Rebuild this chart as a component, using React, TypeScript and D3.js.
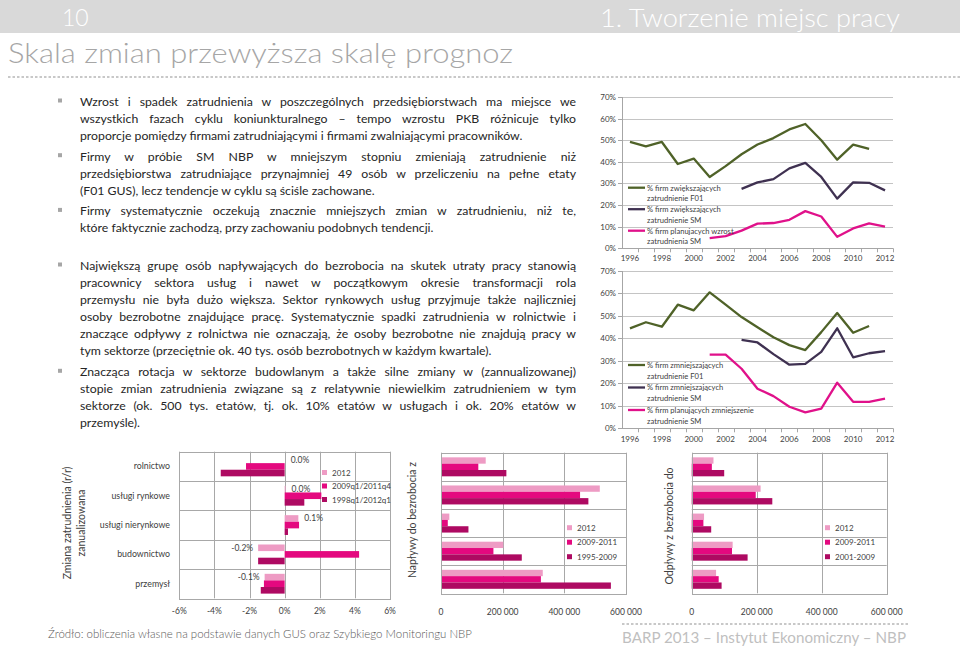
import React, { useEffect, useRef } from "react";
import * as d3 from "d3";

// ---------- line charts ----------
const years = [1996, 1997, 1998, 1999, 2000, 2001, 2002, 2003, 2004, 2005, 2006, 2007, 2008, 2009, 2010, 2011, 2012];
const yearLabels = [1996, 1998, 2000, 2002, 2004, 2006, 2008, 2010, 2012];
const pctTicks = [0, 10, 20, 30, 40, 50, 60, 70];

const incF01 = [49.2, 47.2, 49.2, 39, 41.5, 33, 38, 43.5, 48, 51, 55, 57.5, 50, 41, 48, 46, null];
const incSM = [null, null, null, null, null, null, null, 27.5, 30.5, 32, 37, 39.5, 33, 23, 30.5, 30.3, 26.8];
const incPlan = [null, null, null, null, null, 4.7, 5.6, 8.2, 11.4, 11.7, 13.2, 17.2, 14.7, 5.3, 9.2, 11.5, 10];

const decF01 = [44.5, 47.2, 45.2, 55, 52.5, 60.5, 55, 49.5, 45, 40.5, 37, 34.8, 42.8, 51.3, 42.5, 45.5, null];
const decSM = [null, null, null, null, null, null, null, 39.4, 38.2, 33, 28.3, 28.7, 34, 44.5, 31.6, 33.4, 34.3];
const decPlan = [null, null, null, null, null, 32.8, 32.8, 26.5, 17.6, 14.3, 9.6, 7.1, 8.8, 20.3, 11.8, 11.8, 13.2];

const incLegend = [
  ["% firm zwiększających", "zatrudnienie F01"],
  ["% firm zwiększających", "zatrudnienie SM"],
  ["% firm planujacych wzrost", "zatrudnienia SM"],
];
const decLegend = [
  ["% firm zmniejszających", "zatrudnienie F01"],
  ["% firm zmniejszających", "zatrudnienie SM"],
  ["% firm planujących zmniejszenie", "zatrudnienie SM"],
];

// ---------- bar charts ----------
const sectors = ["rolnictwo", "usługi rynkowe", "usługi nierynkowe", "budownictwo", "przemysł"];

const chgTicks = [-6, -4, -2, 0, 2, 4, 6];
const chg2012 = [0.0, 0.05, 0.78, -1.51, -1.14];
const chg0911 = [-2.2, 2.09, 0.82, 4.24, -1.18];
const chg9812 = [-3.64, 1.12, 0.19, -1.51, -1.36];
const chgLabels = ["0.0%", "0.0%", "0.1%", "-0.2%", "-0.1%"];
const chgNames = ["2012", "2009q1/2011q4", "1998q1/2012q1"];

const flowTicks = [0, 200000, 400000, 600000];
const in2012 = [145000, 515000, 27000, 202000, 330000];
const in0911 = [121000, 451000, 22000, 170000, 324000];
const in9509 = [212000, 478000, 89000, 262000, 551000];
const inNames = ["2012", "2009-2011", "1995-2009"];

const out2012 = [67000, 212000, 38000, 126000, 75000];
const out0911 = [62000, 197000, 36000, 124000, 83000];
const out0109 = [100000, 248000, 60000, 172000, 92000];
const outNames = ["2012", "2009-2011", "2001-2009"];

const barColors = ["#EE9BC4", "#E4097F", "#AE0A62"];
const lineColors = ["#4F6228", "#3F3151", "#E0118A"];

// ---------- text ----------
const block1 = [
  [
    "Wzrost i spadek zatrudnienia w poszczególnych przedsiębiorstwach ma miejsce we",
    "wszystkich fazach cyklu koniunkturalnego – tempo wzrostu PKB różnicuje tylko",
    "proporcje pomiędzy firmami zatrudniającymi i firmami zwalniającymi pracowników.",
  ],
  [
    "Firmy w próbie SM NBP w mniejszym stopniu zmieniają zatrudnienie niż",
    "przedsiębiorstwa zatrudniające przynajmniej 49 osób w przeliczeniu na pełne etaty",
    "(F01 GUS), lecz tendencje w cyklu są ściśle zachowane.",
  ],
  [
    "Firmy systematycznie oczekują znacznie mniejszych zmian w zatrudnieniu, niż te,",
    "które faktycznie zachodzą, przy zachowaniu podobnych tendencji.",
  ],
];
const block2 = [
  [
    "Największą grupę osób napływających do bezrobocia na skutek utraty pracy stanowią",
    "pracownicy sektora usług i nawet w początkowym okresie transformacji rola",
    "przemysłu nie była dużo większa. Sektor rynkowych usług przyjmuje także najliczniej",
    "osoby bezrobotne znajdujące pracę. Systematycznie spadki zatrudnienia w rolnictwie i",
    "znaczące odpływy z rolnictwa nie oznaczają, że osoby bezrobotne nie znajdują pracy w",
    "tym sektorze (przeciętnie ok. 40 tys. osób bezrobotnych w każdym kwartale).",
  ],
  [
    "Znacząca rotacja w sektorze budowlanym a także silne zmiany w (zannualizowanej)",
    "stopie zmian zatrudnienia związane są z relatywnie niewielkim zatrudnieniem w tym",
    "sektorze (ok. 500 tys. etatów, tj. ok. 10% etatów w usługach i ok. 20% etatów w",
    "przemyśle).",
  ],
];

const FONT = "Lato, 'Open Sans', 'DejaVu Sans', sans-serif";
const TXT = "#404040";

type Sel = d3.Selection<SVGGElement, unknown, null, undefined>;

function hline(g: Sel, x1: number, x2: number, y: number, color: string) {
  g.append("line").attr("x1", x1).attr("x2", x2).attr("y1", y).attr("y2", y).attr("stroke", color).attr("stroke-width", 1);
}
function vline(g: Sel, x: number, y1: number, y2: number, color: string) {
  g.append("line").attr("x1", x).attr("x2", x).attr("y1", y1).attr("y2", y2).attr("stroke", color).attr("stroke-width", 1);
}

function drawLineChart(
  root: Sel,
  top: number,
  bottom: number,
  labelY: number,
  series: (number | null)[][],
  legend: string[][],
  legendY: number,
  legendStep: number
) {
  const g = root.append("g").attr("font-family", FONT);
  const x = d3.scalePoint<number>().domain(years).range([622, 893]).padding(0.5);
  const y = d3.scaleLinear().domain([0, 70]).range([bottom, top]);
  const step = x.step();
  const L = 622, R = 893;
  pctTicks.forEach((v) => {
    if (v > 0) hline(g, L, R, Math.round(y(v)) + 0.5, "#C4C4C4");
    hline(g, L - 4, L, Math.round(y(v)) + 0.5, "#A6A6A6");
    g.append("text").attr("x", L - 6).attr("y", y(v) + 3).attr("text-anchor", "end").attr("font-size", 8).attr("fill", TXT).text(`${v}%`);
  });
  vline(g, L + 0.5, top, bottom, "#A6A6A6");
  hline(g, L, R, Math.round(y(0)) + 0.5, "#A6A6A6");
  years.forEach((yr, i) => {
    vline(g, Math.round(L + (i + 1) * step) + 0.5, bottom, bottom + 4, "#A6A6A6");
  });
  yearLabels.forEach((yr) => {
    g.append("text").attr("x", x(yr)!).attr("y", labelY + 3).attr("text-anchor", "middle").attr("font-size", 8).attr("fill", TXT).text(String(yr));
  });
  series.forEach((vals, si) => {
    const line = d3
      .line<number | null>()
      .defined((d) => d != null)
      .x((_, i) => x(years[i])!)
      .y((d) => y(d as number));
    g.append("path").attr("d", line(vals)!).attr("fill", "none").attr("stroke", lineColors[si]).attr("stroke-width", 2.3).attr("stroke-linejoin", "round");
  });
  legend.forEach((lab, i) => {
    const ly = legendY + i * legendStep;
    g.append("line").attr("x1", 628).attr("x2", 645).attr("y1", ly).attr("y2", ly).attr("stroke", lineColors[i]).attr("stroke-width", 2.3);
    g.append("text").attr("x", 647).attr("y", ly + 2.8).attr("font-size", 7.6).attr("fill", TXT).text(lab[0]);
    g.append("text").attr("x", 647).attr("y", ly + 13.5).attr("font-size", 7.6).attr("fill", TXT).text(lab[1]);
  });
}

function drawBarChart(
  root: Sel,
  x0: number,
  x1: number,
  top: number,
  bottom: number,
  domain: [number, number],
  ticks: number[],
  fmt: (v: number) => string,
  tickY: number,
  series: number[][],
  names: string[],
  legendX: number,
  legendY: number,
  legendStep: number
) {
  const g = root.append("g").attr("font-family", FONT);
  const x = d3.scaleLinear().domain(domain).range([x0, x1]);
  const band = d3.scaleBand<string>().domain(sectors).range([top, bottom]);
  const bw = band.bandwidth();
  const inner = d3.scaleBand<number>().domain([0, 1, 2]).range([bw * 0.165, bw * 0.84]);
  const grid = "#A8A8A8";
  ticks.forEach((t) => vline(g, Math.round(x(t)) + 0.5, top, bottom, grid));
  sectors.slice(1).forEach((s) => hline(g, x0, x1, Math.round(band(s)!) + 0.5, grid));
  series.forEach((vals, si) => {
    vals.forEach((v, i) => {
      g.append("rect")
        .attr("x", x(Math.min(0, v)))
        .attr("y", band(sectors[i])! + inner(si)!)
        .attr("width", Math.abs(x(v) - x(0)))
        .attr("height", inner.bandwidth())
        .attr("fill", barColors[si]);
    });
  });
  g.append("rect").attr("x", Math.round(x0) + 0.5).attr("y", Math.round(top) + 0.5).attr("width", Math.round(x1 - x0)).attr("height", Math.round(bottom - top)).attr("fill", "none").attr("stroke", grid);
  ticks.forEach((t) => {
    g.append("text").attr("x", x(t)).attr("y", tickY).attr("text-anchor", "middle").attr("font-size", 8.5).attr("fill", TXT).text(fmt(t));
  });
  names.forEach((n, i) => {
    const ly = legendY + i * legendStep;
    g.append("rect").attr("x", legendX).attr("y", ly - 2.5).attr("width", 5).attr("height", 5).attr("fill", barColors[i]);
    g.append("text").attr("x", legendX + 10).attr("y", ly + 3).attr("font-size", 8).attr("fill", TXT).text(n);
  });
  return { x, band, inner };
}

function drawBody(root: Sel) {
  const g = root.append("g").attr("font-family", FONT).attr("fill", "#262626");
  const probe = g.append("text").attr("font-size", 12).text(block1[0][2]);
  const w = (probe.node() as SVGTextElement).getComputedTextLength();
  probe.remove();
  const fs = (12 * 443) / w;
  g.attr("font-size", fs);
  const left = 80, width = 496;
  const blocks = [
    { start: 106, lh: 16.9, paras: block1 },
    { start: 270, lh: 17.05, paras: block2 },
  ];
  blocks.forEach((b) => {
    let y = b.start;
    b.paras.forEach((lines) => {
      g.append("rect").attr("x", 58).attr("y", y - 7.5).attr("width", 4).attr("height", 4).attr("fill", "#A6A6A6");
      lines.forEach((ln, i) => {
        const t = g.append("text").attr("x", left).attr("y", y).text(ln);
        if (i < lines.length - 1) {
          const nat = (t.node() as SVGTextElement).getComputedTextLength();
          const spaces = (ln.match(/ /g) || []).length;
          if (spaces) t.style("word-spacing", `${(width - nat) / spaces}px`);
        }
        y += b.lh;
      });
      y += 4;
    });
  });
}

function draw(svgEl: SVGSVGElement) {
  const svg = d3.select(svgEl);
  svg.selectAll("*").remove();
  const root = svg.append("g") as unknown as Sel;

  // header
  root.append("rect").attr("x", 0).attr("y", 0).attr("width", 960).attr("height", 33).attr("fill", "#D9D9D9");
  root.append("text").attr("x", 62).attr("y", 26).attr("font-family", FONT).attr("font-weight", 300).attr("font-size", 23).attr("fill", "#fff").text("10");
  root.append("text").attr("x", 600).attr("y", 26.5).attr("font-family", FONT).attr("font-weight", 300).attr("font-size", 25).attr("fill", "#fff")
    .attr("textLength", 300).attr("lengthAdjust", "spacingAndGlyphs").text("1. Tworzenie miejsc pracy");
  root.append("text").attr("x", 8).attr("y", 63).attr("font-family", FONT).attr("font-weight", 300).attr("font-size", 28).attr("fill", "#A6A6A6")
    .attr("textLength", 505).attr("lengthAdjust", "spacingAndGlyphs").text("Skala zmian przewyższa skalę prognoz");
  root.append("line").attr("x1", 8).attr("x2", 960).attr("y1", 77).attr("y2", 77).attr("stroke", "#C8C8C8").attr("stroke-width", 2).attr("stroke-dasharray", "2.5 2");

  drawBody(root);

  drawLineChart(root, 97, 248.3, 258, [incF01, incSM, incPlan], incLegend, 187.7, 21.5);
  drawLineChart(root, 271, 428.3, 439, [decF01, decSM, decPlan], decLegend, 365, 22.5);

  // bar chart 1
  const pct = (v: number) => `${v}%`;
  const c1 = drawBarChart(root, 179.3, 390, 451.7, 598.3, [-6, 6], chgTicks, pct, 614, [chg2012, chg0911, chg9812], chgNames, 322, 472.5, 13.5);
  const g1 = root.append("g").attr("font-family", FONT).attr("fill", TXT);
  sectors.forEach((s, i) => {
    const cy = c1.band(s)! + c1.band.bandwidth() / 2;
    g1.append("text").attr("x", 170).attr("y", cy + 3).attr("text-anchor", "end").attr("font-size", 8.8).text(s);
    const v = chg2012[i];
    const ly = c1.band(s)! + c1.inner(0)! + c1.inner.bandwidth() / 2 + 3;
    if (v >= 0) g1.append("text").attr("x", c1.x(v) + 6).attr("y", ly).attr("font-size", 8.5).text(chgLabels[i]);
    else g1.append("text").attr("x", c1.x(v) - 5).attr("y", ly).attr("text-anchor", "end").attr("font-size", 8.5).text(chgLabels[i]);
  });
  g1.append("text").attr("transform", "translate(71,523) rotate(-90)").attr("text-anchor", "middle").attr("font-size", 10.5).text("Zmiana zatrudnienia (r/r)");
  g1.append("text").attr("transform", "translate(85,523) rotate(-90)").attr("text-anchor", "middle").attr("font-size", 10.5).text("zanualizowana");

  const fmtK = (v: number) => (v === 0 ? "0" : d3.format(",")(v).replace(/,/g, " "));
  drawBarChart(root, 441, 626, 452.7, 593.3, [0, 600000], flowTicks, fmtK, 615, [in2012, in0911, in9509], inNames, 567, 527.7, 14.5);
  root.append("text").attr("transform", "translate(416,520) rotate(-90)").attr("text-anchor", "middle").attr("font-family", FONT).attr("font-size", 10.5).attr("fill", TXT).text("Napływy do bezrobocia z");

  drawBarChart(root, 691.7, 886.7, 452.7, 593.3, [0, 600000], flowTicks, fmtK, 615, [out2012, out0911, out0109], outNames, 825, 527.7, 14.5);
  root.append("text").attr("transform", "translate(673,526) rotate(-90)").attr("text-anchor", "middle").attr("font-family", FONT).attr("font-size", 10.5).attr("fill", TXT).text("Odpływy z bezrobocia do");

  // footer
  root.append("text").attr("x", 48).attr("y", 637.5).attr("font-family", FONT).attr("font-weight", 300).attr("font-size", 11).attr("fill", "#595959")
    .attr("textLength", 424).attr("lengthAdjust", "spacingAndGlyphs").text("Źródło: obliczenia własne na podstawie danych GUS oraz Szybkiego Monitoringu NBP");
  root.append("line").attr("x1", 622).attr("x2", 908).attr("y1", 624).attr("y2", 624).attr("stroke", "#C8C8C8").attr("stroke-width", 2).attr("stroke-dasharray", "2.5 2");
  root.append("text").attr("x", 622).attr("y", 643).attr("font-family", FONT).attr("font-size", 15).attr("fill", "#BFBFBF")
    .attr("textLength", 284).attr("lengthAdjust", "spacingAndGlyphs").text("BARP 2013 – Instytut Ekonomiczny – NBP");
}

export default function App() {
  const ref = useRef<SVGSVGElement>(null);
  useEffect(() => {
    if (ref.current) draw(ref.current);
  }, []);
  return (
    <svg
      ref={ref}
      width={960}
      height={648}
      style={{ position: "absolute", left: 0, top: 0, background: "#ffffff", display: "block" }}
    />
  );
}
